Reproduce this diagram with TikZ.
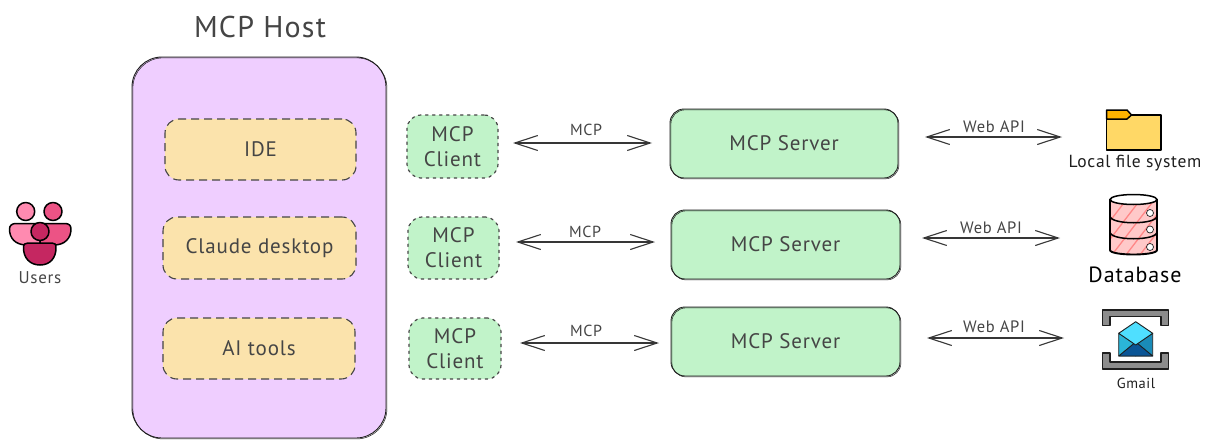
\documentclass[tikz,border=0pt]{standalone}
\usepackage{fontspec}
\setmainfont[LetterSpace=4]{PT Sans}
\usetikzlibrary{arrows.meta,calc}
\definecolor{ink}{HTML}{1E1E1E}
\definecolor{txt}{HTML}{454545}
\definecolor{arrowink}{HTML}{363636}
\definecolor{hostfill}{HTML}{EFCEFF}
\definecolor{yel}{HTML}{FBE3AC}
\definecolor{grn}{HTML}{C1F3C9}
\definecolor{pinkA}{RGB}{255,138,176}
\definecolor{pinkB}{RGB}{236,83,133}
\definecolor{pinkC}{RGB}{197,39,97}
\definecolor{foldA}{RGB}{255,216,102}
\definecolor{foldB}{RGB}{255,179,0}
\definecolor{dbA}{RGB}{255,201,201}
\definecolor{dbB}{RGB}{255,135,135}
\definecolor{grayA}{RGB}{140,140,140}
\definecolor{envA}{RGB}{43,181,216}
\definecolor{envB}{RGB}{26,139,184}
\definecolor{envC}{RGB}{10,85,150}
\definecolor{envD}{RGB}{79,223,255}
\tikzset{
 x=1pt,y=-1pt,
 lab/.style={text=txt,inner sep=0pt,align=center,font=\fontsize{#1}{#1}\selectfont},
 lab/.default=19,
 box/.style={draw=ink,line width=0.9pt,rounded corners=#1,inner sep=0pt,text=txt,font=\fontsize{21}{25}\selectfont,align=center},
 rough/.style={postaction={draw=ink,line width=0.5pt,transform canvas={shift={(0.9pt,-0.9pt)}}}},
 hostbox/.style={box=30pt,fill=hostfill,rough},
 appbox/.style={box=14pt,fill=yel,draw=txt,line width=1.1pt,dash pattern=on 8pt off 5pt},
 clientbox/.style={box=14pt,fill=grn,draw=txt,line width=1.2pt,dash pattern=on 2.5pt off 4.5pt,line cap=round},
 serverbox/.style={box=14pt,fill=grn,rough},
 biarrow/.style={draw=arrowink,line width=1.2pt,
   {Straight Barb[length=23pt,width=15pt,line width=1.1pt]}-{Straight Barb[length=23pt,width=15pt,line width=1.1pt]}},
 icon/.style={draw=black,line width=1.5pt,line join=round},
}
\begin{document}
\begin{tikzpicture}
\useasboundingbox (0,0) rectangle (1212,447);
% host
\node[hostbox,minimum width=254pt,minimum height=381pt] (host) at (259,247.5) {};
\node[lab=30] (hosttitle) at (260,27) {MCP Host};
% apps
\node[appbox,minimum width=191pt,minimum height=61pt] (a1) at (260.5,149.5) {IDE};
\node[appbox,minimum width=193pt,minimum height=62pt] (a2) at (259.5,248) {Claude desktop};
\node[appbox,minimum width=192pt,minimum height=61pt] (a3) at (259,348.5) {AI tools};
% clients
\node[clientbox,minimum width=91pt,minimum height=63pt] (c1) at (452.5,146.5) {MCP\\Client};
\node[clientbox,minimum width=91pt,minimum height=62pt] (c2) at (453.5,248) {MCP\\Client};
\node[clientbox,minimum width=92pt,minimum height=61pt] (c3) at (455,348.5) {MCP\\Client};
% servers
\node[serverbox,minimum width=228pt,minimum height=69pt] (s1) at (784,143.5) {MCP Server};
\node[serverbox,minimum width=229pt,minimum height=69pt] (s2) at (785.5,244.5) {MCP Server};
\node[serverbox,minimum width=229pt,minimum height=69pt] (s3) at (785.5,341.5) {MCP Server};
% users
\path[icon,fill=pinkA] (9.5,229) .. controls (9.5,225.5) and (12,223.5) .. (16,223.5) -- (40,223.5) -- (40,245) -- (27,245) .. controls (15,245) and (9.5,238) .. (9.5,229) -- cycle;
\path[icon,fill=pinkB] (40,223.5) -- (65,223.5) .. controls (69,223.5) and (71,225.5) .. (71,229) .. controls (71,238) and (65,245) .. (54,245) -- (40,245) -- cycle;
\path[icon,fill=pinkA] (25.7,211.5) circle (9);
\path[icon,fill=pinkB] (53,211.5) circle (9);
\path[icon,fill=pinkC] (23.5,248) .. controls (23.5,244) and (25,243) .. (28,243) -- (52,243) .. controls (55,243) and (56,244) .. (56,248) .. controls (56,258) and (50,265) .. (40,265) .. controls (30,265) and (23.5,258) .. (23.5,248) -- cycle;
\path[icon,fill=pinkC] (40,231.5) circle (9);
\node[lab=17] (users) at (40,277.5) {Users};
% folder
\path[icon,fill=foldA] (1106.7,115) rectangle (1161,150);
\path[icon,fill=foldB] (1106.7,110) -- (1127,110) -- (1131.5,115) -- (1127,119) -- (1106.7,119) -- cycle;
\node[lab=17.5,text=ink] (folderlabel) at (1135,163) {Local file system};
% database
\path[fill=dbA] (1110,199) -- (1110,250) .. controls (1110,256) and (1157,256) .. (1157,250) -- (1157,199) -- cycle;
\begin{scope}
\clip (1110,199) -- (1110,250) .. controls (1110,256) and (1157,256) .. (1157,250) -- (1157,199) -- cycle;
\foreach \d in {0,14,...,84}{
  \draw[dbB,line width=1.3pt] (1080+\d,260) -- (1080+\d+50,195);
}
\end{scope}
\path[icon,line width=1.9pt] (1110,199) -- (1110,250) .. controls (1110,256) and (1157,256) .. (1157,250) -- (1157,199);
\path[icon,line width=1.5pt] (1110,216) .. controls (1110,225) and (1157,225) .. (1157,216);
\path[icon,line width=1.5pt] (1110,232) .. controls (1110,241) and (1157,241) .. (1157,232);
\path[icon,line width=1.5pt,fill=white] (1133.5,199.5) ellipse[x radius=23.5,y radius=5];
\foreach \yy in {213,229.5,247}{
  \path[draw=ink,line width=0.7pt,fill=white] (1150,\yy) circle (3.5);
}
\node[lab=22,text=black] (dblabel) at (1135,275) {Database};
% gmail
\path[icon,draw=ink,fill=grayA] (1102.7,310) -- (1168.7,310) -- (1168.7,325.7) -- (1161,325.7) -- (1161,316.7) -- (1110,316.7) -- (1110,325.7) -- (1102.7,325.7) -- cycle;
\path[icon,draw=ink,fill=grayA] (1102.7,369) -- (1168.7,369) -- (1168.7,353) -- (1161,353) -- (1161,362) -- (1110,362) -- (1110,353) -- (1102.7,353) -- cycle;
\path[icon,draw=ink,line width=0.9pt,fill=envA] (1118.7,333.3) -- (1135.7,343) -- (1135.7,356) -- (1118.7,356) -- cycle;
\path[icon,draw=ink,line width=0.9pt,fill=envB] (1152.7,333.3) -- (1135.7,343) -- (1135.7,356) -- (1152.7,356) -- cycle;
\path[icon,draw=ink,line width=0.9pt,fill=envC] (1118.7,356) -- (1135.7,342) -- (1152.7,356) -- cycle;
\path[icon,draw=ink,line width=0.9pt,fill=envD] (1118.7,333.3) -- (1135.7,321.7) -- (1152.7,333.3) -- (1135.7,345) -- cycle;
\node[lab=14.5,text=ink] (gmaillabel) at (1136,383.5) {Gmail};
% free connector ends
\coordinate (l1) at (513,143);
\coordinate (r1) at (652,143);
\coordinate (l2) at (516,242);
\coordinate (r2) at (655,242);
\coordinate (l3) at (520,343);
\coordinate (r3) at (659,343);
\coordinate (w1) at (925,137);
\coordinate (i1) at (1062,137);
\coordinate (w2) at (922,238);
\coordinate (i2) at (1060,238);
\coordinate (w3) at (927,338);
\coordinate (i3) at (1064,338);
% connectors
\draw[biarrow] (l1) -- (r1);
\draw[biarrow] (l2) -- (r2);
\draw[biarrow] (l3) -- (r3);
\draw[biarrow] (w1) -- (i1);
\draw[biarrow] (w2) -- (i2);
\draw[biarrow] (w3) -- (i3);
% labels
\node[lab=16] (m1) at (586,129.5) {MCP};
\node[lab=16] (m2) at (585,231.5) {MCP};
\node[lab=16] (m3) at (586,330.5) {MCP};
\node[lab=16.5] (wa1) at (994,127) {Web API};
\node[lab=16.5] (wa2) at (991,228) {Web API};
\node[lab=16.5] (wa3) at (994,327) {Web API};
\end{tikzpicture}
\end{document}
